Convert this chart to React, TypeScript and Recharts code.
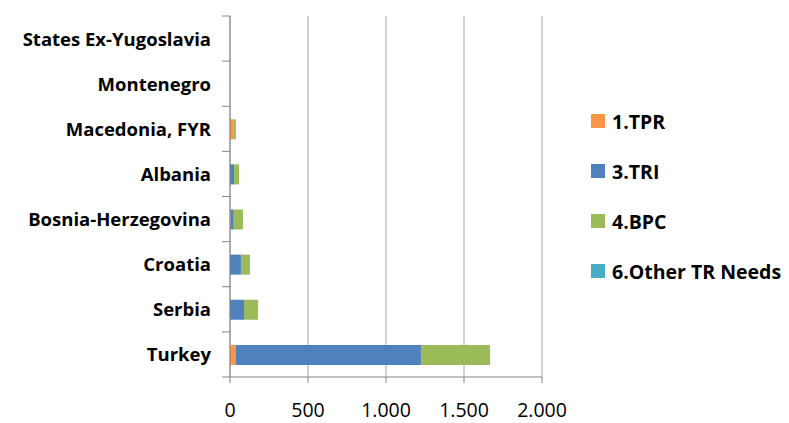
import React from "react";
import { Bar, BarChart, CartesianGrid, XAxis, YAxis } from "recharts";

const countries = [
  "States Ex-Yugoslavia",
  "Montenegro",
  "Macedonia, FYR",
  "Albania",
  "Bosnia-Herzegovina",
  "Croatia",
  "Serbia",
  "Turkey",
];
const tpr = [0, 0, 21, 0, 4, 0, 0, 38];
const tri = [0, 0, 0, 26, 20, 70, 90, 1186];
const bpc = [0, 0, 17, 32, 59, 58, 90, 443];
const other = [0, 0, 0, 0, 0, 0, 0, 0];
const xTicks = [0, 500, 1000, 1500, 2000];

const series = [
  { key: "tpr", name: "1.TPR", color: "#F79646" },
  { key: "tri", name: "3.TRI", color: "#4F81BD" },
  { key: "bpc", name: "4.BPC", color: "#9BBB59" },
  { key: "other", name: "6.Other TR Needs", color: "#4BACC6" },
];

const data = countries.map((country, i) => ({
  country,
  tpr: tpr[i],
  tri: tri[i],
  bpc: bpc[i],
  other: other[i],
}));

const W = 789;
const H = 423;
const TOP = 16;
const BOTTOM = 46;
const BAND = (H - TOP - BOTTOM) / countries.length;
const FONT = "'Open Sans', sans-serif";

function CountryTick(props: any) {
  const { x, y, payload, index } = props;
  return (
    <g>
      <line x1={x} x2={x + 8} y1={y - BAND / 2} y2={y - BAND / 2} stroke="#868686" />
      {index === countries.length - 1 && (
        <line x1={x} x2={x + 8} y1={y + BAND / 2} y2={y + BAND / 2} stroke="#868686" />
      )}
      <text x={x - 11} y={y} dy={7} textAnchor="end" fontWeight="bold" fontSize={18.5} fill="#000" fontFamily={FONT}>
        {payload.value}
      </text>
    </g>
  );
}

function SideLegend() {
  return (
    <div style={{ position: "absolute", left: 591, top: 96, fontFamily: FONT }}>
      {series.map((s) => (
        <div key={s.key} style={{ display: "flex", alignItems: "center", height: 50 }}>
          <span style={{ width: 14, height: 14, background: s.color, marginRight: 7 }} />
          <span style={{ fontWeight: "bold", fontSize: 19.5, color: "#000" }}>{s.name}</span>
        </div>
      ))}
    </div>
  );
}

export default function App() {
  return (
    <div style={{ position: "absolute", left: 0, top: 0, width: W, height: H, background: "#fff", fontFamily: FONT }}>
      <BarChart
        width={W}
        height={H}
        data={data}
        layout="vertical"
        margin={{ top: TOP, right: 247, bottom: 0, left: 0 }}
        barSize={20}
      >
        <CartesianGrid horizontal={false} stroke="#a6a6a6" />
        <XAxis
          type="number"
          domain={[0, 2000]}
          ticks={xTicks}
          interval={0}
          height={BOTTOM}
          tickSize={6}
          tickLine={{ stroke: "#868686" }}
          axisLine={{ stroke: "#868686" }}
          tick={{ fill: "#000", fontSize: 19.5, fontFamily: FONT }}
          tickMargin={20}
          tickFormatter={(v: number) => v.toLocaleString("de-DE")}
        />
        <YAxis
          type="category"
          dataKey="country"
          width={230}
          tickLine={false}
          axisLine={{ stroke: "#868686" }}
          tick={<CountryTick />}
          interval={0}
        />
        {series.map((s) => (
          <Bar key={s.key} dataKey={s.key} name={s.name} stackId="a" fill={s.color} isAnimationActive={false} />
        ))}
      </BarChart>
      <SideLegend />
    </div>
  );
}
